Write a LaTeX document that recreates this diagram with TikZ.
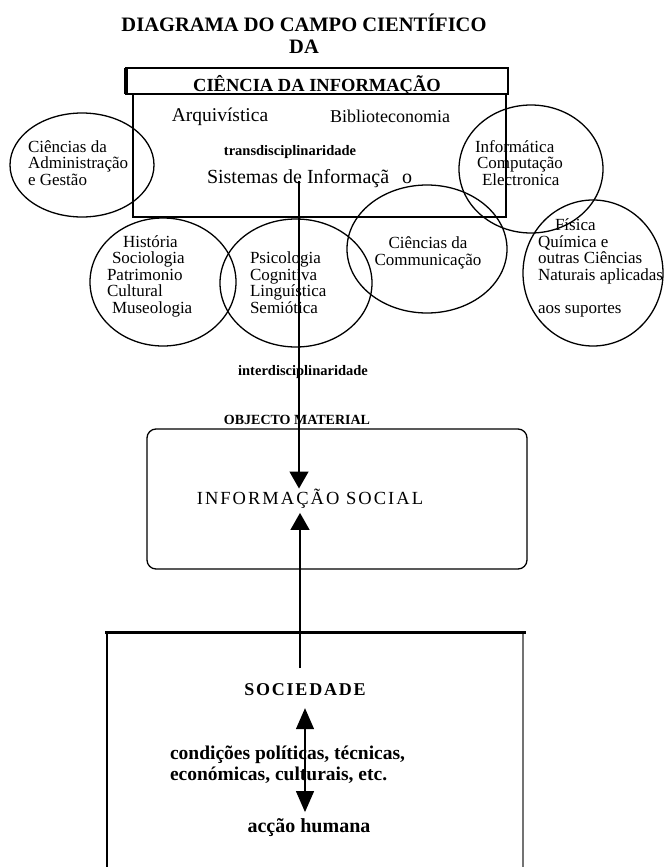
\documentclass[tikz,border=0pt]{standalone}
\usepackage{fontspec}
\setmainfont{Liberation Serif}
\usetikzlibrary{arrows.meta,shapes.geometric}
\newcommand{\sz}[1]{\fontsize{#1}{#1}\selectfont}

\begin{document}
\begin{tikzpicture}[x=1pt,y=-1pt,line width=1.3pt]
\tikzstyle{every node}=[inner sep=0pt, outer sep=0pt]
\tikzstyle{ring}=[draw, ellipse, line width=1.3pt]
\tikzstyle{field}=[anchor=base west, align=left, font=\fontsize{17}{16.5}\selectfont]
\tikzstyle{flow}=[-{Triangle[length=17pt,width=19pt]}]
\tikzstyle{both}=[{Triangle[length=21pt,width=18pt]}-{Triangle[length=21pt,width=18pt]}]
\useasboundingbox (0,0) rectangle (665,867);
\draw (304,32) node (title) [anchor=base, font=\bfseries\sz{20.5}] {DIAGRAMA DO CAMPO CIENTÍFICO};
\draw (304,53) node (da) [anchor=base, font=\bfseries\sz{20.5}] {DA};
\draw (317,81) node (cihead) [draw, line width=1.6pt, minimum width=382pt, minimum height=26pt] {};
\draw[line width=3.5pt] (cihead.north west) -- (cihead.south west);
\draw (317,92) node (ci) [anchor=base, font=\bfseries\sz{18.5}] {CIÊNCIA DA INFORMAÇÃO};
\draw (319.5,155.5) node (cibox) [draw, minimum width=373pt, minimum height=123pt] {};
\draw (220,121) node (arq) [anchor=base, font=\sz{19.5}] {Arquivística};
\draw (390,122) node (bib) [anchor=base, font=\sz{18}] {Biblioteconomia};
\draw (290,155) node (trans) [anchor=base, font=\bfseries\sz{14.5}] {transdisciplinaridade};
\draw (207,183) node (sis) [anchor=base west, font=\sz{20}] {Sistemas de Informaçã\hspace{13pt}o};
\draw (82,165) node (adm) [ring, minimum width=144pt, minimum height=104pt] {};
\draw (163,282) node (hist) [ring, minimum width=146pt, minimum height=128pt] {};
\draw (296,283) node (psi) [ring, minimum width=152pt, minimum height=128pt] {};
\draw (427,249) node (com) [ring, minimum width=160pt, minimum height=128pt] {};
\draw (531,169) node (inf) [ring, minimum width=144pt, minimum height=128pt] {};
\draw (593,273) node (fis) [ring, minimum width=140pt, minimum height=146pt] {};
\draw (28,185) node (admtxt) [field] {Ciências da\\Administração\\e Gestão};
\draw (107,313) node (histtxt) [field] {\hspace{16pt}História\\\hspace{5pt}Sociologia\\Patrimonio\\Cultural\\\hspace{5pt}Museologia};
\draw (250,313) node (psitxt) [field] {Psicologia\\Cognitiva\\Linguística\\Semiótica};
\draw (428,265) node (comtxt) [field, anchor=base, align=center] {Ciências da\\Communicação};
\draw (475,185) node (inftxt) [field] {Informática\\\hspace{2pt}Computação\\\hspace{7pt}Electronica};
\draw (538,313) node (fistxt) [field] {\hspace{17pt}Física\\Química e\\outras Ciências\\Naturais aplicadas\\[16.5pt]aos suportes};
\draw (303,375) node (inter) [anchor=base, font=\bfseries\sz{14.5}] {interdisciplinaridade};
\draw (297,424) node (obj) [anchor=base, font=\bfseries\sz{14}] {OBJECTO MATERIAL};
\draw (337,499) node (objbox) [draw, rounded corners=9pt, minimum width=380pt, minimum height=140pt] {};
\draw (310,504) node (infsoc) [anchor=base, font=\sz{18.5}\addfontfeature{LetterSpace=11}] {INFORMAÇÃO SOCIAL};
\draw (107,868) -- (107,632);
\draw[black!55] (523,632) -- (523,868);
\draw[line width=3pt] (105,632) -- (526,632);
\draw (305,695) node (soc) [anchor=base, font=\bfseries\sz{18}\addfontfeature{LetterSpace=10}] {SOCIEDADE};
\draw (170,780) node (cond) [anchor=base west, align=left, font=\bfseries\fontsize{19.5}{20.5}\selectfont] {condições políticas, técnicas,\\económicas, culturais, etc.};
\draw (309,832) node (acc) [anchor=base, font=\bfseries\sz{20}] {acção humana};
\coordinate (sisfoot) at (299,181);
\coordinate (socfoot) at (300,668);
\draw[flow] (sisfoot) -- (sisfoot |- infsoc.north);
\draw[flow] (socfoot) -- ([yshift=-5pt]socfoot |- infsoc.south);
\draw[both] ([yshift=-13pt]soc.south) -- ([yshift=6pt]soc.south |- acc.north);
\end{tikzpicture}
\end{document}
